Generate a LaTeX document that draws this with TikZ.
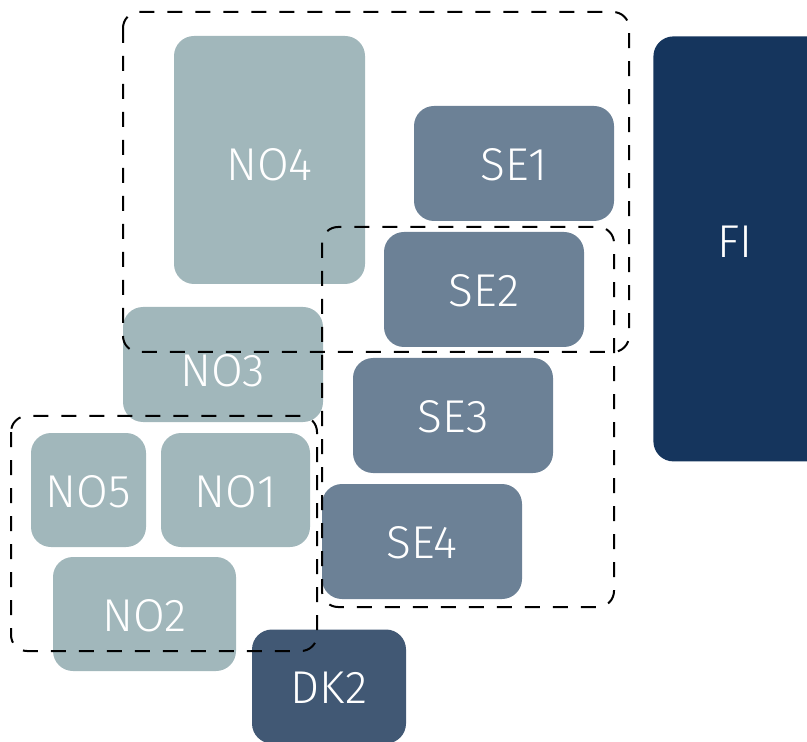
\documentclass[tikz,border=0pt]{standalone}
\usepackage{fontspec}
\setmainfont{Fira Sans}[UprightFont={* Light}]
\definecolor{nolight}{HTML}{A1B7BB}
\definecolor{semid}{HTML}{6C8196}
\definecolor{dkblue}{HTML}{415874}
\definecolor{fiblue}{HTML}{15355D}
\tikzset{
  box/.style={rounded corners=10pt, inner sep=0pt, text=white,
    text height=17pt, text depth=0pt,
    font=\fontsize{23}{23}\selectfont},
  nobox/.style={box, fill=nolight},
  sebox/.style={box, fill=semid},
  group/.style={draw=black, line width=1pt, dash pattern=on 7.5pt off 6.5pt,
    rounded corners=8pt}
}
\begin{document}
\begin{tikzpicture}[x=0.5pt,y=-0.5pt]
\useasboundingbox (0,0) rectangle (807,742);
% country boxes
\node[nobox, minimum width=95.5pt, minimum height=124pt] (no4) at (269.5,160) {\raisebox{-2pt}{NO4}};
\node[sebox, minimum width=100pt, minimum height=57.5pt] (se1) at (514,163.5) {SE1};
\node[sebox, minimum width=100pt, minimum height=57.5pt] (se2) at (484,289.5) {SE2};
\node[nobox, minimum width=100pt, minimum height=57.5pt] (no3) at (223,364.5) {\raisebox{-2.5pt}{NO3}};
\node[sebox, minimum width=100pt, minimum height=57.5pt] (se3) at (453,415.5) {SE3};
\node[sebox, minimum width=100pt, minimum height=57.5pt] (se4) at (422,541.5) {SE4};
\node[nobox, minimum width=57.5pt, minimum height=57pt] (no5) at (88.5,490) {NO5};
\node[nobox, minimum width=74.5pt, minimum height=57pt] (no1) at (235.5,490) {NO1};
\node[nobox, minimum width=91.5pt, minimum height=57pt] (no2) at (144.5,614) {NO2};
\node[box, fill=dkblue, minimum width=77pt, minimum height=57pt] (dk2) at (329,686.5) {DK2};
\node[box, fill=fiblue, minimum width=87pt, minimum height=212.5pt, anchor=north west] (fi) at (653,36) {\hspace*{-5pt}\raisebox{4pt}{FI}};
% price-area groupings
\draw[group] (123,12) rectangle (629,352);
\draw[group] (322,227) rectangle (614,607);
\draw[group] (11,416) rectangle (317,651);
\end{tikzpicture}
\end{document}
